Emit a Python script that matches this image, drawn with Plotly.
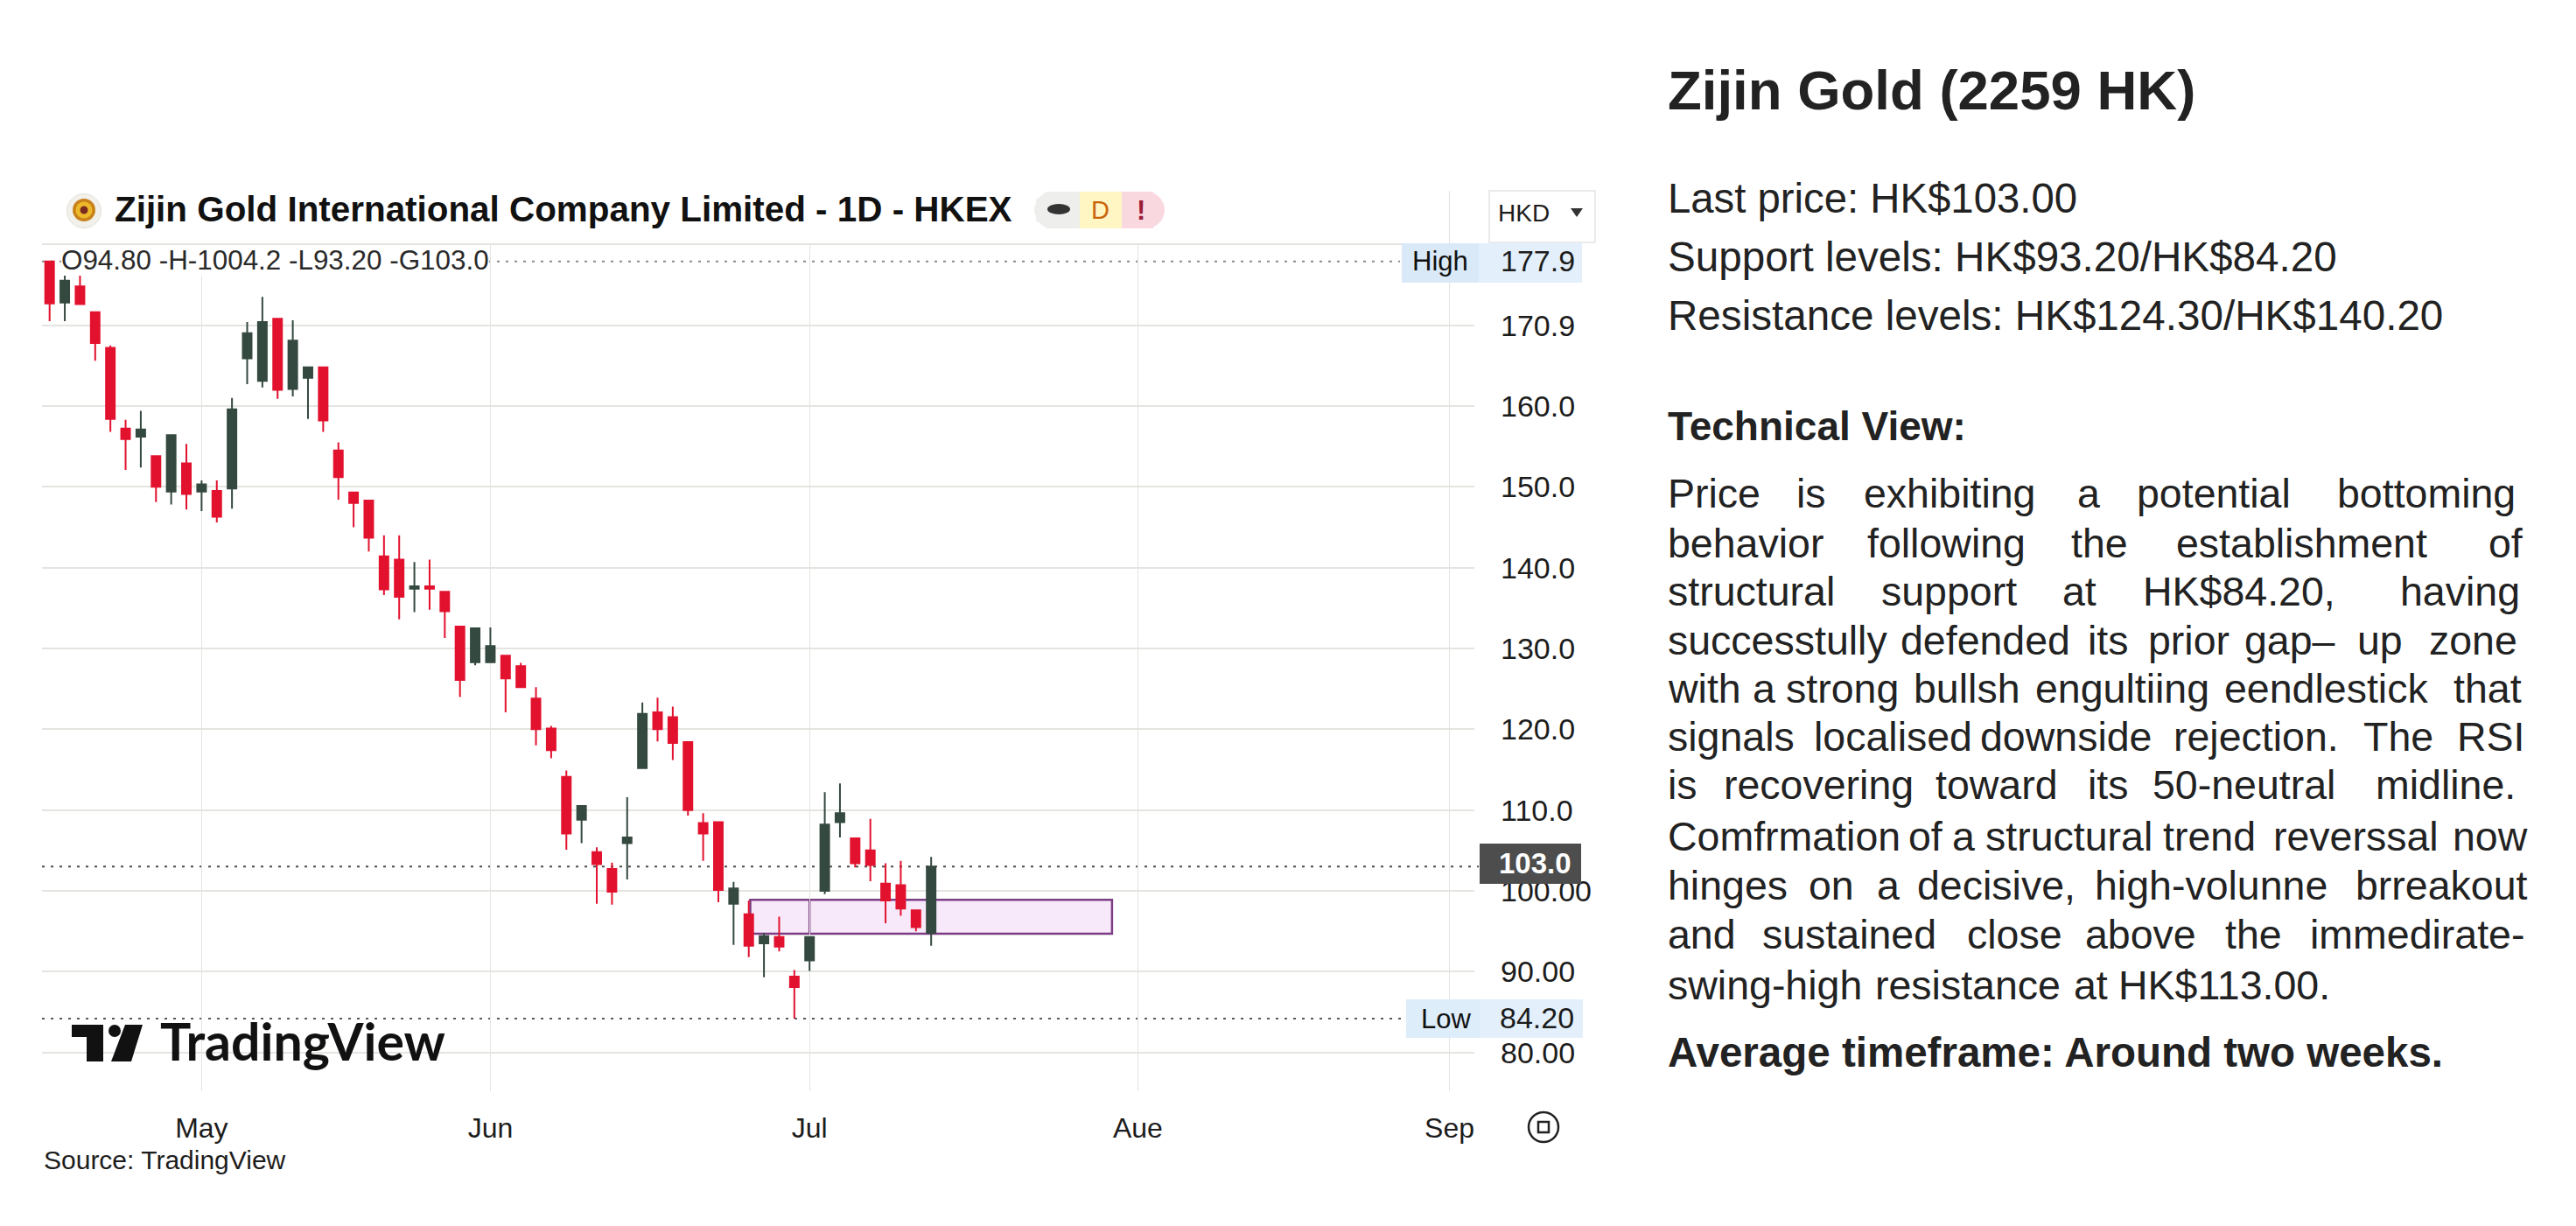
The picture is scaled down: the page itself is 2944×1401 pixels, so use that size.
import plotly.graph_objects as go

# Daily OHLC for 2259 HK, oldest session first
opens = [177.9, 172.8, 174.8, 171.6, 167.2, 157.2, 156.2, 153.8, 149.4, 152.9,
         149.4, 149.5, 149.8, 165.9, 163.1, 170.8, 162.1, 163.5, 164.8, 154.5,
         149.3, 148.3, 141.4, 141.0, 137.4, 137.7, 137.0, 132.7, 128.3, 128.3,
         129.1, 127.8, 123.8, 120.1, 114.1, 108.8, 104.8, 102.7, 105.9, 115.2,
         122.1, 121.5, 118.4, 108.4, 108.5, 98.4, 97.1, 93.5, 94.3, 89.4,
         91.4, 100.0, 108.5, 106.5, 105.0, 100.9, 100.7, 97.6, 94.8]
highs = [177.9, 176.5, 176.3, 171.6, 167.5, 158.3, 159.4, 153.8, 156.4, 155.3,
         150.8, 150.8, 161.0, 170.4, 173.5, 170.8, 170.6, 164.8, 164.8, 155.5,
         149.3, 148.3, 144.0, 144.0, 140.7, 141.0, 137.0, 132.7, 132.5, 132.6,
         129.1, 128.2, 125.2, 120.4, 114.9, 110.5, 105.4, 103.5, 111.6, 123.3,
         123.9, 122.8, 118.4, 109.6, 108.5, 101.1, 98.8, 94.8, 96.8, 90.2,
         94.3, 112.2, 113.3, 106.5, 108.9, 103.4, 103.7, 97.6, 104.2]
lows = [170.5, 170.5, 172.6, 165.6, 156.8, 152.1, 152.4, 148.1, 147.8, 147.2,
        147.0, 145.6, 147.3, 162.7, 162.3, 160.9, 161.2, 158.4, 156.8, 148.4,
        145.0, 142.0, 136.6, 133.6, 134.5, 134.8, 131.3, 124.0, 127.9, 128.3,
        122.1, 125.2, 118.0, 116.4, 105.1, 105.9, 98.4, 98.3, 101.4, 115.2,
        118.5, 116.2, 109.3, 103.7, 98.6, 93.3, 91.8, 89.3, 92.5, 84.2,
        90.1, 99.6, 106.6, 102.9, 101.2, 96.0, 96.9, 95.0, 93.2]
closes = [172.7, 175.5, 172.6, 167.8, 158.4, 155.9, 157.1, 150.0, 156.4, 149.1,
          150.3, 146.3, 159.6, 169.0, 170.4, 162.0, 168.1, 164.8, 158.2, 151.2,
          148.0, 143.7, 137.3, 136.4, 137.7, 137.4, 134.6, 126.1, 132.5, 130.3,
          126.3, 125.2, 120.0, 117.4, 107.1, 110.5, 103.3, 99.9, 106.6, 121.9,
          120.0, 118.3, 110.0, 107.1, 100.1, 100.3, 93.2, 94.4, 93.1, 88.1,
          94.3, 108.2, 109.6, 103.4, 103.2, 98.8, 97.8, 95.5, 103.0]
sessions = list(range(len(opens)))

# Axis ticks
month_sessions = [10, 29, 50, 71.6, 92.1]
month_labels = ["May", "Jun", "Jul", "Aue", "Sep"]
price_ticks = [80, 90, 100, 110, 120, 130, 140, 150, 160, 170]
price_labels = ["80.00", "90.00", "100.00", "110.0", "120.0", "130.0",
                "140.0", "150.0", "160.0", "170.9"]

# Reference levels
period_high = 177.9
period_low = 84.2
last_close = 103.0
zone_low = 94.7
zone_high = 98.9
zone_start = 46.1
zone_end = 69.9

WIDTH, HEIGHT = 2944, 1401
TEXT = "#1c1c1c"
SANS = "Liberation Sans"
RED = "#e2122f"
DARK = "#34493f"
GRID = "#e4e4e0"


def X(px):
    return px / WIDTH


def Y(py):
    return 1 - py / HEIGHT


annotations = []
shapes = []


def label(x, baseline, s, size, bold=False, color=TEXT, anchor="left", bg=None, family=SANS):
    """Text placed by its pen position and baseline on the page."""
    annotations.append(dict(
        xref="paper", yref="paper", x=X(x), y=Y(baseline + 0.212 * size),
        xanchor=anchor, yanchor="bottom", text=s, showarrow=False, borderpad=0, borderwidth=0,
        bgcolor=bg, align="left",
        font=dict(family=family, size=size, color=color, weight=700 if bold else 400),
    ))


def box(x0, y0, x1, y1, fill, line=None, lw=0, layer="above"):
    shapes.append(dict(type="rect", xref="paper", yref="paper", x0=X(x0), x1=X(x1), y0=Y(y0), y1=Y(y1),
                       fillcolor=fill, line=dict(color=line or fill, width=lw), layer=layer))


def disc(cx, cy, r, fill, line=None, lw=0):
    shapes.append(dict(type="circle", xref="paper", yref="paper", x0=X(cx - r), x1=X(cx + r),
                       y0=Y(cy + r), y1=Y(cy - r), fillcolor=fill,
                       line=dict(color=line or fill, width=lw), layer="above"))


def poly(points, fill):
    path = "M" + " L".join(f"{X(a):.5f},{Y(b):.5f}" for a, b in points) + " Z"
    shapes.append(dict(type="path", xref="paper", yref="paper", path=path, fillcolor=fill,
                       line=dict(color=fill, width=0), layer="above"))


fig = go.Figure(go.Candlestick(
    x=sessions, open=opens, high=highs, low=lows, close=closes,
    increasing=dict(line=dict(color=DARK, width=2), fillcolor=DARK),
    decreasing=dict(line=dict(color=RED, width=2), fillcolor=RED),
    whiskerwidth=0, showlegend=False, hoverinfo="skip",
))

# Frame rule along the top of the price pane and the taller Sep guide
shapes.append(dict(type="line", xref="paper", yref="paper", x0=X(48), x1=X(1602), y0=Y(279), y1=Y(279),
                   line=dict(color=GRID, width=2), layer="below"))
shapes.append(dict(type="line", xref="x", yref="paper", x0=92.1, x1=92.1, y0=Y(279), y1=Y(218),
                   line=dict(color=GRID, width=1.2), layer="below"))

# Dotted high, low and last-price levels
for level, end_px, color in [(period_high, 1600, "#8a8a8a"), (period_low, 1605, "#5a5a5a"), (last_close, 1690, "#4a4a4a")]:
    shapes.append(dict(type="line", xref="paper", yref="y", x0=X(48), x1=X(end_px), y0=level, y1=level,
                       line=dict(color=color, width=2, dash="3px,7px"), layer="below"))

# Highlighted gap zone
shapes.append(dict(type="rect", xref="x", yref="y", x0=zone_start, x1=zone_end, y0=zone_low, y1=zone_high,
                   fillcolor="#f7e9fa", line=dict(color="#7d3d85", width=2.5), layer="below"))
shapes.append(dict(type="line", xref="x", yref="y", x0=month_sessions[2], x1=month_sessions[2], y0=zone_low, y1=zone_high,
                   line=dict(color="#7d3d85", width=2.5), layer="below"))

# Chart header
disc(96, 241, 19.5, "#f1f0ea", "#e2e0d8", 1)
disc(96, 240, 13, "#c9821a")
disc(96, 240, 9.5, "#edb92a")
disc(96, 240, 4.5, "#7c2a20")
label(131, 253, "Zijin Gold International Company Limited - 1D - HKEX", 40.4, bold=True, color="#111111")

# Status pill
box(1196, 219, 1234, 261, "#eeeeec")
disc(1196, 240, 14, "#eeeeec")
poly([(1184, 228), (1196, 219), (1196, 261), (1184, 252)], "#eeeeec")
box(1234, 219, 1282, 261, "#fff6c4")
box(1282, 219, 1318, 261, "#f9d9df")
disc(1310, 240, 21, "#f9d9df")
shapes.append(dict(type="circle", xref="paper", yref="paper", x0=X(1197), x1=X(1223), y0=Y(245), y1=Y(233),
                   fillcolor="#333333", line=dict(color="#333333", width=0), layer="above"))
label(1257, 250, "D", 29, color="#c9650b", anchor="center")
label(1304, 251, "!", 31, bold=True, color="#9a1c38", anchor="center")

# Currency selector
box(1702, 218, 1823, 277, "#ffffff", "#e3e3e3", 1.5)
label(1712, 253, "HKD", 28)
poly([(1795, 238), (1809, 238), (1802, 248)], "#333333")

# Legend line with the last session's values
label(70, 308, "O94.80 -H-1004.2 -L93.20 -G103.0", 31.4, color="#2a2a2a", bg="#ffffff")

# Price tags at the axis
box(1602, 278, 1690, 323, "#d9e9f8")
box(1690, 278, 1808, 323, "#e3f0fb")
label(1646, 309, "High", 31, anchor="center", color="#111111")
label(1715, 310, "177.9", 34)
box(1607, 1142, 1692, 1186, "#deedfa")
box(1692, 1142, 1809, 1186, "#e3f0fb")
label(1653, 1175, "Low", 31, anchor="center", color="#111111")
label(1714, 1175, "84.20", 34)
box(1691, 964, 1807, 1010, "#4d4d4d")
label(1754, 998, "103.0", 33, bold=True, color="#ffffff", anchor="center")

# TradingView mark and wordmark
poly([(82, 1171), (118, 1171), (118, 1213), (99, 1213), (99, 1185), (82, 1185)], "#111111")
poly([(143, 1171), (163, 1171), (150, 1213), (127, 1213)], "#111111")
disc(131, 1178, 7, "#111111")
label(183, 1212, "TradingView", 59, bold=True, color="#111111", family="Lato")

# Footer
label(50, 1336, "Source: TradingView", 30)
disc(1764, 1288, 17, "#ffffff", "#222222", 2.5)
box(1758, 1282, 1770, 1294, "#ffffff", "#222222", 2.5)

# Commentary column
label(1906, 125, "Zijin Gold (2259 HK)", 63.5, bold=True, color="#222222")
label(1906, 243, "Last price: HK$103.00", 47.3, color="#222222")
label(1906, 310, "Support levels: HK$93.20/HK$84.20", 47.6, color="#222222")
label(1906, 377, "Resistance levels: HK$124.30/HK$140.20", 47.6, color="#222222")
label(1906, 503, "Technical View:", 46, bold=True, color="#222222")

paragraph = [
    (580, [("Price", 38), ("is", 255), ("exhibiting", 368), ("a", 728), ("potential", 828), ("bottoming", 1165)]),
    (637, [("behavior", 38), ("following", 375), ("the", 717), ("establishment", 895), ("of", 1420)]),
    (692, [("structural", 38), ("support", 398), ("at", 703), ("HK$84.20,", 838), ("having", 1272)]),
    (748, [("successtully", 38), ("defended", 430), ("its", 745), ("prior", 848), ("gap\u2013", 1010), ("up", 1200), ("zone", 1320)]),
    (803, [("with", 38), ("a", 182), ("strong", 238), ("bullsh", 452), ("engultiing", 658), ("eendlestick", 975), ("that", 1362)]),
    (858, [("signals", 38), ("localised", 285), ("downside", 565), ("rejection.", 890), ("The", 1210), ("RSI", 1368)]),
    (913, [("is", 38), ("recovering", 133), ("toward", 490), ("its", 745), ("50-neutral", 855), ("midline.", 1230)]),
    (972, [("Comfrmation", 38), ("of", 443), ("a", 518), ("structural", 573), ("trend", 873), ("reverssal", 1058), ("now", 1360)]),
    (1028, [("hinges", 38), ("on", 275), ("a", 390), ("decisive,", 458), ("high-volunne", 757), ("brreakout", 1197)]),
    (1084, [("and", 38), ("sustained", 198), ("close", 543), ("above", 742), ("the", 977), ("immedirate-", 1120)]),
    (1142, [("swing-high", 38), ("resistance", 388), ("at", 722), ("HK$113.00.", 797)]),
]
for baseline, words in paragraph:
    for word, column in words:
        label(1880 + column / 1.4737, baseline, word, 46.5, color="#222222")

label(1906, 1219, "Average timeframe: Around two weeks.", 47.5, bold=True, color="#222222")

fig.update_layout(
    width=WIDTH, height=HEIGHT,
    margin=dict(l=0, r=0, t=0, b=0, pad=0),
    paper_bgcolor="#ffffff", plot_bgcolor="#ffffff",
    font=dict(family=SANS, color=TEXT),
    boxgap=0.18,
    shapes=shapes, annotations=annotations,
    xaxis=dict(
        domain=[X(48), X(1685)], type="linear", range=[-0.5, 93.74],
        tickmode="array", tickvals=month_sessions, ticktext=month_labels,
        showgrid=True, gridcolor=GRID, gridwidth=1.2, zeroline=False, showline=False,
        ticks="", ticklabelstandoff=20, tickfont=dict(size=32, color=TEXT),
        rangeslider=dict(visible=False),
    ),
    yaxis=dict(
        domain=[Y(1247), Y(279)], side="right", type="linear", range=[75.2, 180.03],
        tickmode="array", tickvals=price_ticks, ticktext=price_labels,
        showgrid=True, gridcolor=GRID, gridwidth=2, zeroline=False, showline=False,
        ticks="", ticklabelstandoff=29, tickfont=dict(size=34, color=TEXT),
    ),
)

fig.write_html("out.html")
